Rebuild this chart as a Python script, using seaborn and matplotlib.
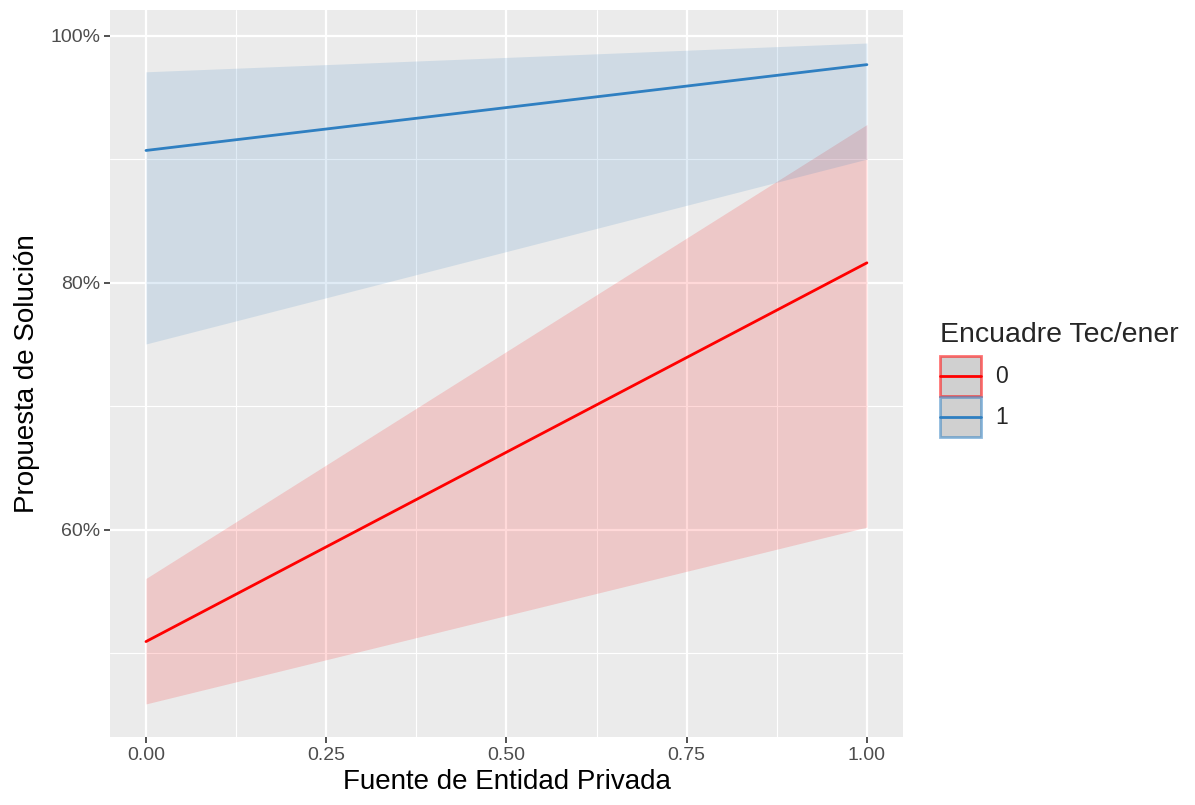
import numpy as np
import pandas as pd
import seaborn as sns
import matplotlib
matplotlib.use("Agg")
import matplotlib.pyplot as plt
from matplotlib.patches import Rectangle
from matplotlib.lines import Line2D
from matplotlib.legend_handler import HandlerBase
from matplotlib.ticker import PercentFormatter, MultipleLocator, FormatStrFormatter

# Predicted probabilities by source and framing group
x_vals = [0.0, 1.0]
groups = ["0", "1"]
fit_0 = [0.5093, 0.8160]
low_0 = [0.4588, 0.6020]
high_0 = [0.5604, 0.9280]
fit_1 = [0.9070, 0.9765]
low_1 = [0.7503, 0.9000]
high_1 = [0.9707, 0.9940]

palette = {"0": "#FF0000", "1": "#2F7FC1"}

df = pd.DataFrame({
    "x": x_vals * 2,
    "group": [groups[0]] * 2 + [groups[1]] * 2,
    "fit": fit_0 + fit_1,
    "low": low_0 + low_1,
    "high": high_0 + high_1,
})

sns.set_theme(style="darkgrid", rc={
    "axes.facecolor": "#EBEBEB",
    "grid.color": "white",
    "axes.edgecolor": "#EBEBEB",
})
plt.rcParams["font.family"] = ["Liberation Sans", "DejaVu Sans"]

fig = plt.figure(figsize=(11.95, 8.05), dpi=100)
ax = fig.add_axes([0.092, 0.0845, 0.6636, 0.9031])

for g, sub in df.groupby("group"):
    ax.fill_between(sub["x"], sub["low"], sub["high"], color=palette[g],
                    alpha=0.15, linewidth=0)
sns.lineplot(data=df, x="x", y="fit", hue="group", palette=palette,
             linewidth=2.0, ax=ax, legend=False, errorbar=None)

# ggplot-like 5% expansion of scales
xr = df["x"].max() - df["x"].min()
ax.set_xlim(df["x"].min() - 0.05 * xr, df["x"].max() + 0.05 * xr)
ymin, ymax = df["low"].min(), df["high"].max()
yr = ymax - ymin
ax.set_ylim(ymin - 0.05 * yr, ymax + 0.05 * yr)

ax.xaxis.set_major_locator(MultipleLocator(0.25))
ax.xaxis.set_minor_locator(MultipleLocator(0.125))
ax.yaxis.set_major_locator(MultipleLocator(0.2))
ax.yaxis.set_minor_locator(MultipleLocator(0.1))
ax.yaxis.set_major_formatter(PercentFormatter(1.0, decimals=0))
ax.xaxis.set_major_formatter(FormatStrFormatter("%.2f"))

ax.grid(which="major", color="white", linewidth=1.6)
ax.grid(which="minor", color="white", linewidth=0.8)
ax.tick_params(which="major", direction="out", length=4, width=1.2,
               color="#333333", labelsize=14, labelcolor="#4D4D4D", pad=3,
               bottom=True, left=True)
ax.tick_params(which="minor", length=0)
for s in ax.spines.values():
    s.set_visible(False)

ax.set_xlabel("Fuente de Entidad Privada", fontsize=20, color="black", labelpad=4)
ax.set_ylabel("Propuesta de Solución", fontsize=20, color="black", labelpad=7)


class RibbonKey(HandlerBase):
    """Grey key box with a coloured outline and a centred line."""

    def create_artists(self, legend, orig_handle, xdescent, ydescent,
                       width, height, fontsize, trans):
        color = orig_handle.get_color()
        x0, y0 = -xdescent, -ydescent
        box = Rectangle((x0, y0), width, height, facecolor="#D0D0D0",
                        edgecolor=matplotlib.colors.to_rgba(color, 0.55),
                        linewidth=2.0, transform=trans)
        yc = y0 + height / 2
        line = Line2D([x0, x0 + width], [yc, yc], color=color,
                      linewidth=2.0, transform=trans)
        return [box, line]


handles = [Line2D([], [], color=palette[g]) for g in groups]

leg = fig.legend(handles, groups, title="Encuadre Tec/ener",
                 loc="upper left", bbox_to_anchor=(0.787, 0.600),
                 frameon=False, fontsize=16.5, title_fontsize=20.5,
                 handlelength=1.75, handleheight=2.3, labelspacing=0.05,
                 handletextpad=0.65, borderpad=0, borderaxespad=0,
                 handler_map={Line2D: RibbonKey()})
leg._legend_box.align = "left"
leg._legend_box.sep = 6

fig.savefig("out.png", dpi=100)
